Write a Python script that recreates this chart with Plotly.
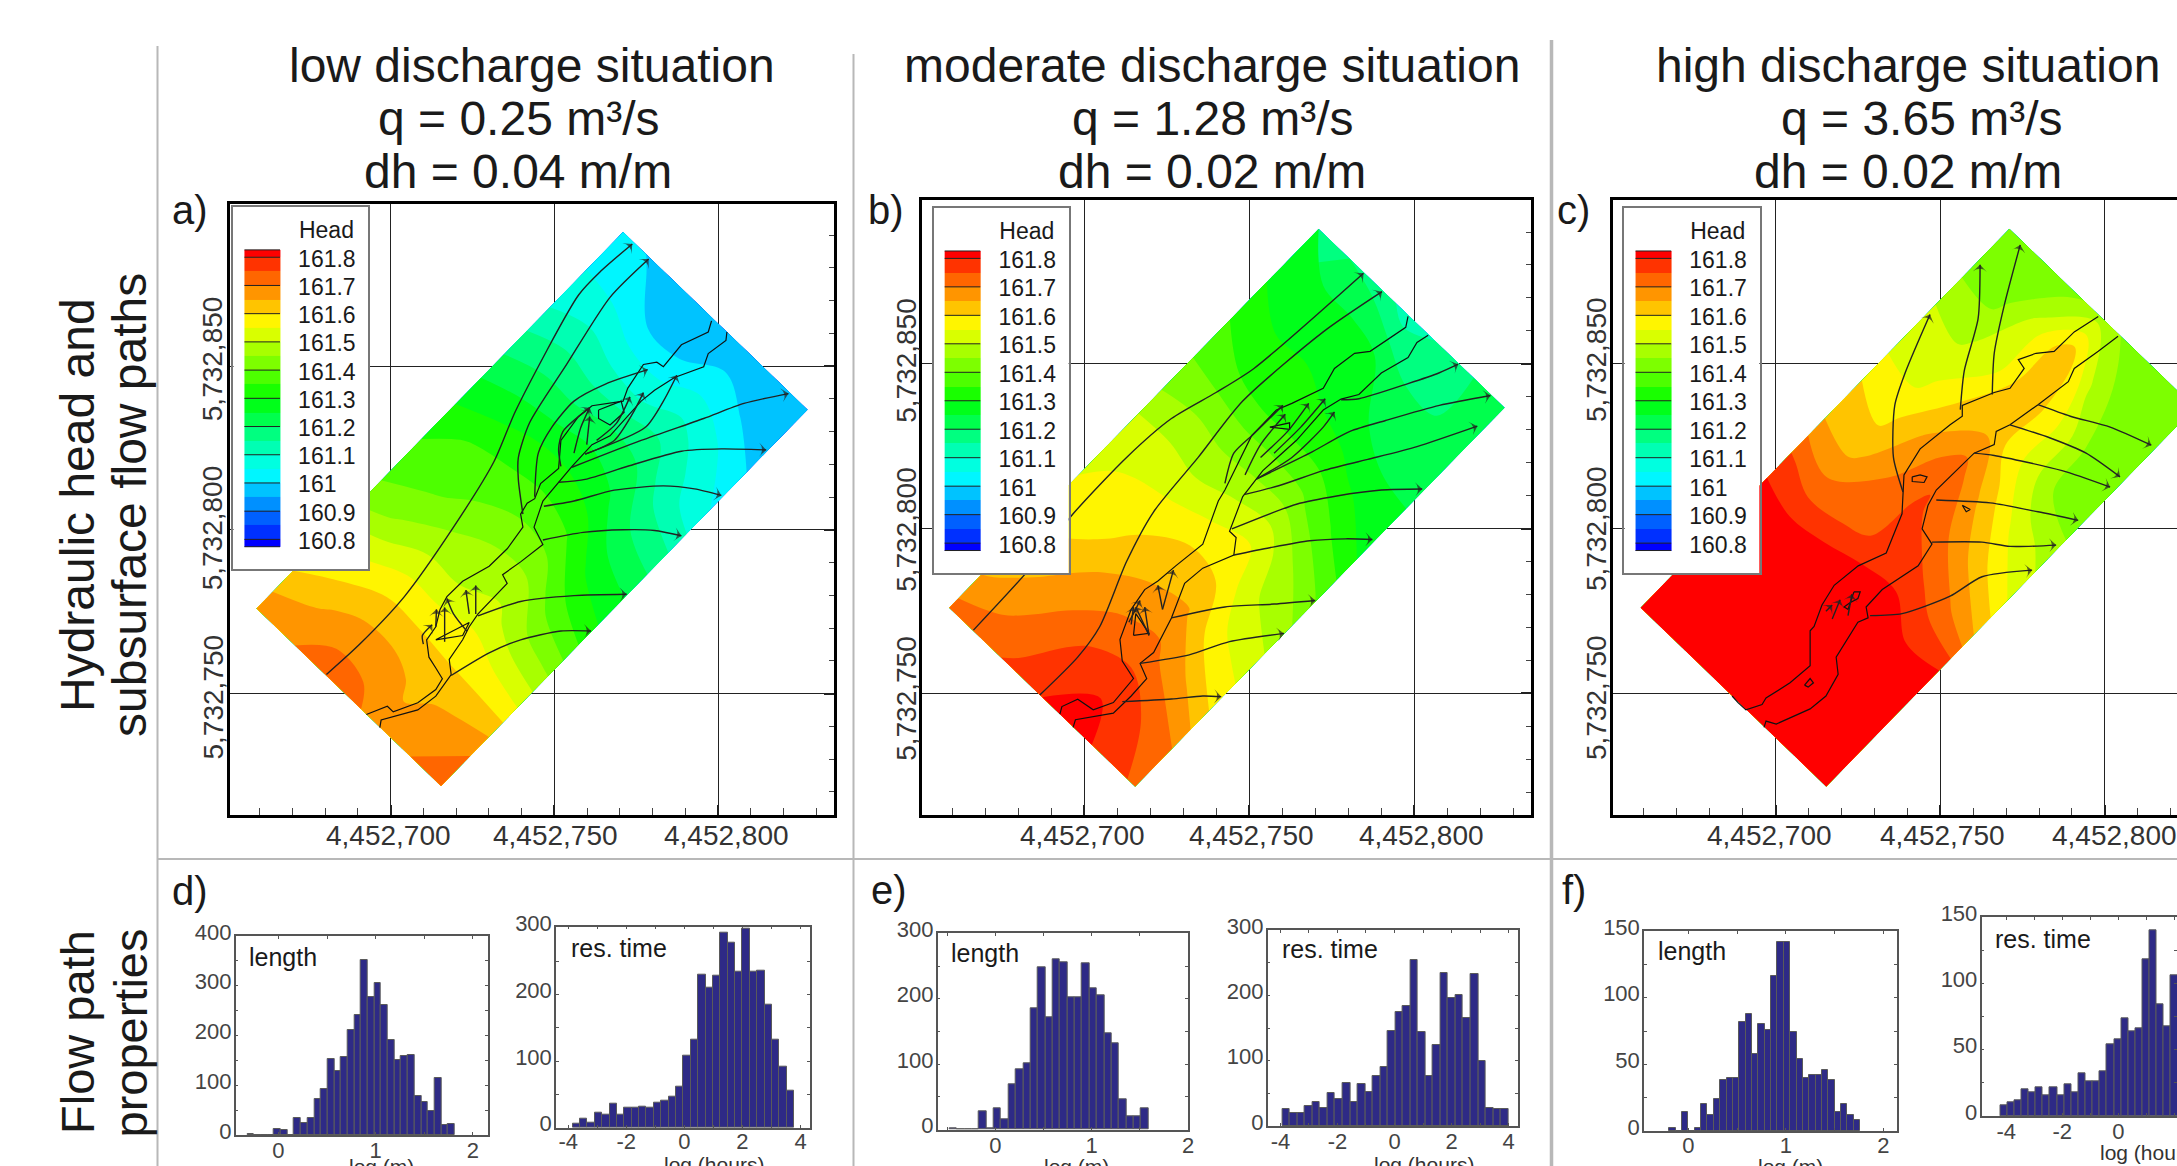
import numpy as np
import plotly.graph_objects as go

W, H = 2177, 1166
FONT = "Liberation Sans"

# ---------- discharge scenarios ----------
titles = ["low discharge situation", "moderate discharge situation", "high discharge situation"]
discharges = ["q = 0.25 m³/s", "q = 1.28 m³/s", "q = 3.65 m³/s"]
gradients = ["dh = 0.04 m/m", "dh = 0.02 m/m", "dh = 0.02 m/m"]

# ---------- coordinates (metres) ----------
E0, N0 = 4452000, 5732000
east_ticks = [4452700, 4452750, 4452800]
north_ticks = [5732850, 5732800, 5732750]
domain_left = (659.0, 776.0)
domain_top = (771.0, 891.0)
domain_bottom = (715.4, 721.7)
along = [0, .1, .2, .3, .4, .5, .6, .7, .8, .9, 1]
across = [0, 1/6, 2/6, 3/6, 4/6, 5/6, 1]

# ---------- hydraulic head: rows along the valley, columns across it ----------
head_a = [
 [161.69,161.69,161.73,161.72,161.67,161.70,161.74],
 [161.60,161.64,161.67,161.67,161.64,161.66,161.69],
 [161.54,161.56,161.59,161.59,161.59,161.58,161.56],
 [161.42,161.46,161.50,161.50,161.52,161.47,161.44],
 [161.37,161.39,161.42,161.45,161.45,161.37,161.32],
 [161.33,161.36,161.37,161.38,161.36,161.28,161.25],
 [161.26,161.28,161.30,161.30,161.27,161.20,161.17],
 [161.18,161.20,161.20,161.22,161.20,161.12,161.07],
 [161.10,161.12,161.10,161.09,161.12,161.08,161.01],
 [161.05,161.04,161.00,161.00,161.03,161.00,160.98],
 [161.03,160.99,160.98,160.97,160.96,160.96,160.97],
]
head_b = [
 [161.72,161.73,161.76,161.80,161.83,161.78,161.74],
 [161.64,161.68,161.72,161.77,161.79,161.75,161.70],
 [161.60,161.63,161.68,161.71,161.72,161.67,161.60],
 [161.56,161.58,161.62,161.65,161.66,161.57,161.53],
 [161.54,161.56,161.58,161.60,161.59,161.51,161.47],
 [161.51,161.51,161.50,161.52,161.54,161.46,161.39],
 [161.43,161.44,161.43,161.43,161.42,161.36,161.30],
 [161.38,161.35,161.33,161.33,161.32,161.28,161.26],
 [161.33,161.30,161.30,161.28,161.25,161.22,161.23],
 [161.28,161.27,161.27,161.25,161.20,161.20,161.21],
 [161.25,161.20,161.18,161.12,161.16,161.20,161.22],
]
head_c = [
 [161.85,161.85,161.85,161.85,161.85,161.85,161.85],
 [161.85,161.85,161.85,161.85,161.85,161.85,161.85],
 [161.85,161.85,161.85,161.85,161.85,161.85,161.83],
 [161.83,161.82,161.83,161.84,161.84,161.80,161.81],
 [161.76,161.72,161.73,161.76,161.77,161.72,161.65],
 [161.65,161.63,161.70,161.76,161.70,161.62,161.54],
 [161.60,161.58,161.66,161.73,161.63,161.53,161.48],
 [161.53,161.53,161.60,161.64,161.55,161.45,161.42],
 [161.50,161.49,161.53,161.65,161.55,161.43,161.41],
 [161.43,161.43,161.52,161.64,161.48,161.41,161.41],
 [161.42,161.42,161.43,161.48,161.43,161.41,161.41],
]

# ---------- colour legend ----------
head_labels = ["161.8","161.7","161.6","161.5","161.4","161.3","161.2","161.1","161","160.9","160.8"]
head_levels = [161.8,161.7,161.6,161.5,161.4,161.3,161.2,161.1,161.0,160.9,160.8]
band_colors = ["#0000ff","#0030ff","#0060ff","#0090ff","#00c3ff","#00f6ff","#00ffe0","#00ffb3",
               "#00ff80","#00ff4d","#00ff1a","#19ff00","#4dff00","#7dff00","#a8ff00","#d9ff00",
               "#fff500","#ffc400","#ff9500","#ff6600","#ff3300","#ff0000"]
band_edges = [160.774] + [round(160.8 + .05*i, 2) for i in range(21)] + [161.826]
band_values = [round(160.775 + .05*i, 3) for i in range(22)]

# ---------- river banks (metres east / north of the origin) ----------
river_a = [
 [[692.6,699,700.8,708.3,713.8,715.8,713.8,711.7,711,713.8,715.1,717.2,722,730.1,735.6,740.4,739.7,741.7,744,745.8,751.3,752,757.4,761.5,771,772.4,777.2,781.3,783.3,788.8,797,798],
  [743.6,746.1,744.4,747.2,751.2,754.5,757.8,761.1,766.4,770.4,775.7,779.6,784.3,788.9,794.2,800.8,804.8,808.1,809.5,814.1,818.7,827.3,834.6,837.9,839.3,843.2,850.5,851.2,849.8,856.5,860.4,863.8]],
 [[696.7,697.1,708.3,713.8,718.5,717.9,722,724,726.7,735.6,734.2,739.7,746.5,743.8,746.5,751.3,755.4,761.5,767,776.5,780.6,786.7,795.6,797,802.4,802.7],
  [739.6,741.9,745,749.2,755.8,760.4,766.4,770.4,774.3,783.6,786.3,790.2,795.5,800.8,808.8,814.7,819.4,826,828.7,839.3,842.6,846.5,849.8,853.8,857.8,860.4]],
 [[763.5,770.4,771.3,767,763.5,763.5],[836.6,839.3,835.9,832,834,836.6]],
 [[713.8,722,724,713.8],[766.4,767.7,771.7,766.4]],
]
river_b = [
 [[692.6,693.2,698,702.7,708.8,714.9,711.5,710.8,714.2,718.3,722.3,727.7,735.9,740.6,742.6,746.7,750.7,758.2,762.9,772.4,775.8,781.9,786.6,797.4,798.1],
  [743.7,746,748.2,745,747.2,754.5,759.8,766.3,775.5,781.5,784.1,788.7,795.3,808.4,811.7,820.3,828.2,836,838,842.6,848.6,853.2,853.8,861.1,864.4]],
 [[696.6,697.3,708.8,714.2,718.9,716.9,721,726.4,730.4,735.9,745.3,746,744,748,754.1,764.3,772.4,777.8,783.2,790,798.1,800.8,804.2],
  [739.7,742,744,749.2,754.5,759.1,762.4,772.9,783.4,788,792,797.3,799.2,809.7,817.6,826.8,836,839.3,840.7,847.2,851.9,856.5,858.7]],
 [[756.2,762.2,762.2,757.5,756.2],[830.8,832.1,830.1,830.5,830.8]],
 [[714.9,719.6,715.6,714.9],[767.6,768.2,774.2,767.6]],
]
river_c = [
 [[686.8,688.6,691,695.9,697.1,704.4,710.5,710.5,711.7,714.1,717.8,725.1,733.6,738.4,739,743.9,753,756.7,756.7,766.4,771.2,775.5,773.7,779.1,784.6,790.7,798],
  [749.2,747.2,745,746.6,748.6,753.2,758.4,769,770.3,776.8,782.8,788.7,792.6,804.5,816.3,824.2,831.5,834.1,837.4,841.3,842.6,848.6,851.3,853.2,853.8,859.7,864.4]],
 [[696.5,697.1,700.2,710.5,715.3,719,718.4,725,728.1,727.5,732.4,743.3,747.5,744.5,746.3,748.8,760.3,766.4,767,771.2,779.7,788.9,790.7,798,804],
  [739.7,741.6,740.7,745.3,749.2,755.8,761,771.6,772.9,776.2,781.5,788.7,795.3,799.9,807.1,811.7,822.9,825.5,829.5,831.5,837.6,844.6,848.6,853.8,858.4]],
 [[741.5,743.9,746,745.1,741.5,741.5],[815.7,816.3,815.7,814,814.3,815.7]],
 [[708.8,710.5,711.5,709.9,708.8],[752.5,754.5,753.2,751.9,752.5]],
 [[723.8,725.7,725,722.6,720.8,722,723.8],[780.8,780.8,778.8,777.5,776.2,775.5,780.8]],
 [[756.7,759.1,757.9,756.7],[807.1,805.8,805.1,807.1]],
]

# ---------- flow paths ----------
flow_a = [
 [[680.4,690.6,704.2,719.2,731.5,738.3,757.4,764.2,773.8],[755.8,765.1,779.6,800.8,820.7,836.6,871.7,879,887.3]],
 [[740.4,739,739,742.4,753.3,767,778.8],[804.8,815.4,822,832.6,849.8,871,882.7]],
 [[744,745.1,749.2,756,765.6,778.5],[810.1,823.4,831.3,839.3,844.5,848.9]],
 [[755.4,776.5,795.6,807.9,821.5],[819.1,827.3,834,838.6,841.6]],
 [[751.3,759.4,772.4,788.8,801,814.7],[814.5,815.4,819.4,824,824.7,824.4]],
 [[746.8,756,768.3,783.3,792.8,801],[807.2,808.8,812.1,813.4,812.5,810.5]],
 [[746.5,758.8,771,780.6,788.8],[796.9,799.2,800,799.8,798.2]],
 [[726.7,739.7,756,772.1],[773.7,778.1,779.9,780.3]],
 [[718.5,730.1,739.7,752,761.2],[755.5,762.4,766.4,769.1,769.1]],
 [[759.4,768.3,773.8,777.2],[823.1,827.3,835.3,841.9]],
 [[762.9,769,773.1],[827.3,832.6,840.6]],
 [[752,751.3,752.6,760.8],[819.4,824.7,830,837.3]],
 [[756,758.1,760.8],[823.4,831.3,837.3]],
 [[759.9,760.8],[826,834.6]],
 [[759.4,777.8,783.3,787.4],[823.1,831.3,839.3,847.2]],
 [[710,709.7,712.7],[765.1,767.7,771]],
 [[716.5,716.5],[765.8,776.3]],
 [[723.3,719.2,717.2],[769,774.3,779]],
 [[724,723],[774.3,781.6]],
 [[726,726],[774.3,783]],
 [[713.8,714],[770.4,775.7]],
]
flow_b = [
 [[666.4,683.1,696.6,712.8,726.4,739.9,751.4,784.6],[769.2,787.4,804.5,821.6,833.4,841.3,848.6,877.5]],
 [[686.5,698,704.7,712.8,721,734.5,748,772.4,790.2],[749.5,761,770.3,790,805.1,821.6,838.7,859.7,871.9]],
 [[742.6,745.3,751.4,760.2],[813.7,822.9,828.8,837.4]],
 [[748.7,753.4,760.9],[816.3,825.5,834.7]],
 [[753.4,761.6,768],[821.6,829.5,838]],
 [[757.5,765.6,773],[822.9,830.8,839.4]],
 [[752.1,762.9,772.4,775.8],[815,821.6,830.8,835.4]],
 [[777.8,783.2,798.1,807.6,813.3],[839.1,839.4,844,847.3,849.9]],
 [[752.1,768.3,780.5,791.3,807.6,823.1],[815,822.9,829.5,832.8,837.4,840.4]],
 [[748.7,758.9,772.4,785.9,800.8,819.1],[810.4,813,817.6,821,824.9,831.1]],
 [[744.7,764.3,776.5,790,802.4],[799.9,807.4,809.9,811.7,812]],
 [[745.3,756.2,768.3,779.2,787.3],[792,794.2,796.3,796.9,796.7]],
 [[726.4,742.6,757.5,770],[772.9,776.2,777.1,778.2]],
 [[716.9,731.8,744,760.5],[759.1,761.7,765.7,768.2]],
 [[711.5,726.4,735.9,741.5],[747.5,748.3,749.2,749]],
 [[719.6,715.6],[767.6,776.2]],
 [[723.7,722.3],[775.5,782.8]],
 [[723.7,727],[775.5,787.4]],
 [[719.6,718.3],[767.6,776.2]],
 [[713.5,716.9],[771.6,778.2]],
 [[714.2,714.9],[770.9,776.2]],
]
flow_c = [
 [[738.7,735.8,736.2,739.6,746.9],[811.1,821.6,837.4,847.9,865]],
 [[756.1,757.3,761.5,762.1],[836.1,847.9,863.7,880.1]],
 [[765.8,766.4,769.4,774.3],[840.7,853.2,867.6,886.1]],
 [[779.7,789.5,801.6,814.1],[837.6,834.1,830.8,825.3]],
 [[771.2,783.4,794.3,804.6],[831.5,827.5,822.9,815.7]],
 [[760.3,766.4,787,801.6],[822.9,822.2,817.6,812.6]],
 [[748.8,765.2,779.7,791.9],[808.7,807.8,805.1,802.5]],
 [[747.5,762.7,771.2,785.2],[795.9,795.9,794.6,795]],
 [[728.7,738.4,753,762.7,777.9],[773.6,774.2,779.5,785.4,787.4]],
 [[715.3,717.2],[774.9,776.8]],
 [[717.2,719.6],[772.6,778.4]],
 [[722,723.2],[773.6,780.1]],
]

# ---------- histograms: first bin centre, bin width, counts ----------
length_d = (-0.286, .0688, [2,0,0,0,12,10,0,34,25,34,72,92,152,128,156,212,242,352,278,306,262,190,150,158,160,78,66,48,114,20,22])
time_d = (-3.72, .2543, [6,14,8,22,20,36,20,30,30,32,30,38,40,46,62,108,132,230,210,228,292,278,234,298,234,236,184,132,92,56])
length_e = (-0.438, .0765, [2,0,0,0,28,2,32,16,70,92,102,186,248,172,260,256,202,202,254,216,206,148,132,46,20,20,32])
time_e = (-3.80, .264, [26,20,20,30,36,28,50,42,66,36,64,52,76,90,146,174,184,254,144,76,124,234,196,200,166,232,100,28,26,26])
length_f = (-0.1625, .0653, [2,0,14,0,2,20,12,24,38,40,40,82,88,58,80,76,116,142,142,74,54,40,42,42,46,38,14,20,12,8])
time_f = (-4.087, .2536, [8,10,12,20,18,22,16,22,16,24,18,32,26,26,34,54,58,74,64,66,118,140,84,68,106])


def xdom(a, b):
    return [a / W, min(b / W, 1)]

def ydom(a, b):
    return [1 - b / H, 1 - a / H]

def stepped(colors):
    n = len(colors)
    out = []
    for i, c in enumerate(colors):
        out += [[i / n, c], [(i + 1) / n, c]]
    return out

fig = go.Figure()
layout = dict(width=W, height=H, autosize=False, margin=dict(l=0, r=0, t=0, b=0, autoexpand=False),
              paper_bgcolor="white", plot_bgcolor="rgba(0,0,0,0)", showlegend=False,
              font=dict(family=FONT, color="#222"), bargap=0)
ann, shapes = [], []

def text(s, x, y, size, color="#1a1a1a", xa="center", ya="middle", angle=0):
    ann.append(dict(text=s, x=x / W, y=1 - y / H, xref="paper", yref="paper", showarrow=False,
                    xanchor=xa, yanchor=ya, textangle=angle, font=dict(size=size, color=color, family=FONT)))

scale = stepped(band_colors)
a_arr, b_arr = np.array(along), np.array(across)
A, B = np.meshgrid(a_arr, b_arr)
carpet_x = E0 + domain_left[0] + A * (domain_top[0] - domain_left[0]) + B * (domain_bottom[0] - domain_left[0])
carpet_y = N0 + domain_left[1] + A * (domain_top[1] - domain_left[1]) + B * (domain_bottom[1] - domain_left[1])

map_panels = [
    dict(frame=(229.5, 834, 204, 815), xr=(4452650.8, 4452835.4), yr=(5732712.9, 5732899.5),
         head=head_a, river=river_a, flow=flow_a, box=(233.3, 368.3, 207.3, 569.3),
         xlab=[388.4, 555, 726.8], ylab_x=212.5, ylab_y=[358.7, 527.8, 697]),
    dict(frame=(922.3, 1530.8, 200.4, 815.3), xr=(4452650.9, 4452835.3), yr=(5732713, 5732899.6),
         head=head_b, river=river_b, flow=flow_b, box=(933.5, 1068.8, 208, 573.3),
         xlab=[1082, 1251, 1421], ylab_x=905.8, ylab_y=[360, 529, 698]),
    dict(frame=(1613.2, 2177, 200.4, 815.3), xr=(4452650.7, 4452821.9), yr=(5732713, 5732899.6),
         head=head_c, river=river_c, flow=flow_c, box=(1624.4, 1759.6, 208, 573.3),
         xlab=[1769, 1942, 2114], ylab_x=1596, ylab_y=[360, 529, 698]),
]

for k, p in enumerate(map_panels):
    n = k + 1
    xn, yn = ("x", "y") if n == 1 else (f"x{n}", f"y{n}")
    xk, yk = ("xaxis", "yaxis") if n == 1 else (f"xaxis{n}", f"yaxis{n}")
    l, r, t, b = p["frame"]
    layout[xk] = dict(domain=xdom(l, r), range=list(p["xr"]), anchor=yn, showline=True, mirror=True,
                      linecolor="black", linewidth=3, showgrid=True, gridcolor="#222", gridwidth=1,
                      tick0=4452700, dtick=50, ticks="inside", ticklen=10, tickwidth=2, tickcolor="#222",
                      showticklabels=False, zeroline=False,
                      minor=dict(dtick=10, tick0=4452700, ticks="inside", ticklen=7, tickwidth=1, tickcolor="#444"))
    has_right = k < 2
    layout[yk] = dict(domain=ydom(t, b), range=list(p["yr"]), anchor=xn, side="right" if has_right else "left",
                      showline=True, mirror=True, linecolor="black", linewidth=3, showgrid=True, gridcolor="#222",
                      gridwidth=1, tick0=5732750, dtick=50, showticklabels=False, zeroline=False,
                      ticks="inside" if has_right else "", ticklen=10, tickwidth=2, tickcolor="#222",
                      minor=dict(dtick=10, tick0=5732750, ticks="inside" if has_right else "", ticklen=5, tickwidth=1, tickcolor="#444"))
    cid = f"carpet{n}"
    fig.add_trace(go.Carpet(carpet=cid, a=along, b=across, x=carpet_x, y=carpet_y, xaxis=xn, yaxis=yn,
                            aaxis=dict(showgrid=False, showline=False, startline=False, endline=False,
                                       showticklabels="none", minorgridcount=0, smoothing=0),
                            baxis=dict(showgrid=False, showline=False, startline=False, endline=False,
                                       showticklabels="none", minorgridcount=0, smoothing=0)))
    fig.add_trace(go.Contourcarpet(carpet=cid, a=along, b=across, z=np.array(p["head"]).T, autocontour=False,
                                   contours=dict(start=160.8, end=161.8, size=.05, coloring="fill", showlines=False),
                                   line=dict(width=0), colorscale=scale, zmin=160.75, zmax=161.85,
                                   showscale=False, xaxis=xn, yaxis=yn))
    for ex, ny in p["river"]:
        fig.add_trace(go.Scatter(x=E0 + np.array(ex), y=N0 + np.array(ny), mode="lines",
                                 line=dict(color="#111", width=1.2), xaxis=xn, yaxis=yn, hoverinfo="skip"))
    for ex, ny in p["flow"]:
        sizes = [0] * (len(ex) - 1) + [10]
        fig.add_trace(go.Scatter(x=E0 + np.array(ex), y=N0 + np.array(ny), mode="lines+markers",
                                 line=dict(color="#222", width=1.4, shape="spline", smoothing=.7),
                                 marker=dict(symbol="arrow-wide", size=sizes, angleref="previous", color="#222", line=dict(width=0)),
                                 xaxis=xn, yaxis=yn, hoverinfo="skip"))
    for v, xp in zip(east_ticks, p["xlab"]):
        text(f"{v:,}", xp, 835, 28, "#333")
    for v, yp in zip(north_ticks, p["ylab_y"]):
        text(f"{v:,}", p["ylab_x"], yp, 28, "#333", angle=-90)

# legends
for k, p in enumerate(map_panels):
    n = k + 4
    xn, yn = f"x{n}", f"y{n}"
    l, r, t, bt = p["box"]
    lo, hi = 160.694, 161.977
    layout[f"xaxis{n}"] = dict(domain=xdom(l, r), range=[0, 1], anchor=yn, showline=True, mirror=True, linecolor="#777",
                               linewidth=1.5, showgrid=False, zeroline=False, showticklabels=False, ticks="")
    layout[f"yaxis{n}"] = dict(domain=ydom(t, bt), range=[lo, hi], anchor=xn, showline=True, mirror=True, linecolor="#777",
                               linewidth=1.5, showgrid=False, zeroline=False, showticklabels=False, ticks="")
    shapes.append(dict(type="rect", xref=xn, yref=yn, x0=0, x1=1, y0=lo, y1=hi, fillcolor="white",
                       line=dict(width=0), layer="below"))
    bx0, bx1 = .0825, .346
    fig.add_trace(go.Heatmap(x=[bx0, bx1], y=band_edges, z=[[v] for v in band_values], zmin=160.75, zmax=161.85,
                             colorscale=scale, showscale=False, xaxis=xn, yaxis=yn, hoverinfo="skip"))
    lx, ly = [], []
    for v in head_levels + [161.826, 160.774]:
        lx += [bx0, bx1, None]
        ly += [v, v, None]
    fig.add_trace(go.Scatter(x=lx, y=ly, mode="lines", line=dict(color="#222", width=1), xaxis=xn, yaxis=yn, hoverinfo="skip"))
    fig.add_trace(go.Scatter(x=[.48] * len(head_levels), y=[v - .013 for v in head_levels], text=head_labels,
                             mode="text", textposition="middle right", textfont=dict(size=23, color="#1a1a1a", family=FONT),
                             xaxis=xn, yaxis=yn, hoverinfo="skip"))
    fig.add_trace(go.Scatter(x=[.69], y=[161.89], text=["Head"], mode="text", textposition="middle center",
                             textfont=dict(size=23, color="#1a1a1a", family=FONT), xaxis=xn, yaxis=yn, hoverinfo="skip"))

# histograms
hists = [
    (length_d, (235.7, 487.5, 936, 1135), (-.44, 2.15), (0, 400), 100, 1, [0, 1, 2], -5),
    (time_d, (556, 809.8, 926.7, 1127.7), (-4.42, 4.32), (0, 301.5), 100, 2, [-4, -2, 0, 2, 4], -7),
    (length_e, (937.7, 1188, 933.3, 1129.7), (-.6, 2.0), (0, 300), 100, 1, [0, 1, 2], -5),
    (time_e, (1267.6, 1518, 930, 1126), (-4.45, 4.33), (0, 300), 100, 2, [-4, -2, 0, 2, 4], -5),
    (length_f, (1644, 1896.9, 931, 1131), (-.454, 2.14), (0, 150), 50, 1, [0, 1, 2], -6),
    (time_f, (1981.5, 2177, 917.3, 1116), (-4.88, 2.09), (0, 150), 50, 2, [-4, -2, 0, 2], -5),
]
for k, (hd, fr, xr, yr, ydt, xdt, xt, off) in enumerate(hists):
    n = k + 7
    xn, yn = f"x{n}", f"y{n}"
    start, width, counts = hd
    centers = [start + width * i for i in range(len(counts))]
    layout[f"xaxis{n}"] = dict(domain=xdom(fr[0], fr[1]), range=list(xr), anchor=yn, showline=True, mirror="ticks",
                               linecolor="#555", linewidth=1.5, showgrid=False, zeroline=False,
                               tickvals=xt, ticktext=[str(v) for v in xt],
                               ticks="inside", ticklen=3, tickcolor="#555", tickfont=dict(size=22, color="#444", family=FONT),
                               ticklabelstandoff=off,
                               minor=dict(dtick=xdt / 2, ticks="inside", ticklen=3, tickcolor="#555"))
    layout[f"yaxis{n}"] = dict(domain=ydom(fr[2], fr[3]), range=list(yr), anchor=xn, showline=True, mirror="ticks",
                               linecolor="#555", linewidth=1.5, showgrid=False, zeroline=False, dtick=ydt, tick0=0,
                               ticks="inside", ticklen=3, tickcolor="#555", tickfont=dict(size=22, color="#444", family=FONT),
                               ticklabelshift=-4, ticklabelstandoff=-2,
                               minor=dict(dtick=ydt / 2, ticks="inside", ticklen=3, tickcolor="#555"))
    fig.add_trace(go.Bar(x=centers, y=counts, width=width, marker=dict(color="#2e2a86", line=dict(color="#5a5a5a", width=1)),
                         xaxis=xn, yaxis=yn, hoverinfo="skip"))

# panel text
for ct, cq, cd, t1, t2, t3 in zip([531.7, 1212, 1908], [518, 1212, 1921.6], [518, 1212, 1908], titles, discharges, gradients):
    text(t1, ct, 65, 48)
    text(t2, cq, 119, 48)
    text(t3, cd, 171, 48)
for s, x, y in [("a)", 190, 210), ("b)", 886, 210), ("c)", 1574, 210), ("d)", 190, 891), ("e)", 889, 890), ("f)", 1574, 890)]:
    text(s, x, y, 40)
text("Hydraulic head and", 77, 505, 48, angle=-90)
text("subsurface flow paths", 129, 505, 48, angle=-90)
text("Flow path", 77, 1032, 47, angle=-90)
text("properties", 129.5, 1033, 47, angle=-90)
for s, x, y in [("length", 247, 957), ("res. time", 569, 948), ("length", 949, 953), ("res. time", 1280, 949),
                ("length", 1656, 951), ("res. time", 1993, 939)]:
    text(s, x, y, 25, xa="left")
for s, x, y, xa in [("log (m)", 381, 1153, "center"), ("log (hours)", 714, 1151, "center"), ("log (m)", 1076, 1153, "center"),
                    ("log (hours)", 1424, 1151, "center"), ("log (m)", 1790, 1153, "center"), ("log (hours)", 2098, 1139, "left")]:
    text(s, x, y, 21, "#333", xa=xa, ya="top")

# separators
sep = "#b8b8b8"
for x, y0, w in [(157.5, 46, 2), (853.5, 54, 2), (1551.5, 40, 3.5)]:
    shapes.append(dict(type="line", xref="paper", yref="paper", x0=x / W, x1=x / W, y0=1 - y0 / H, y1=0,
                       line=dict(color=sep, width=w), layer="below"))
shapes.append(dict(type="line", xref="paper", yref="paper", x0=157.5 / W, x1=1, y0=1 - 859 / H, y1=1 - 859 / H,
                   line=dict(color=sep, width=2), layer="below"))

fig.update_layout(**layout, annotations=ann, shapes=shapes)
fig.write_html("out.html", post_script="document.body.style.margin='0';document.body.style.overflow='hidden';",
               config=dict(displayModeBar=False))
